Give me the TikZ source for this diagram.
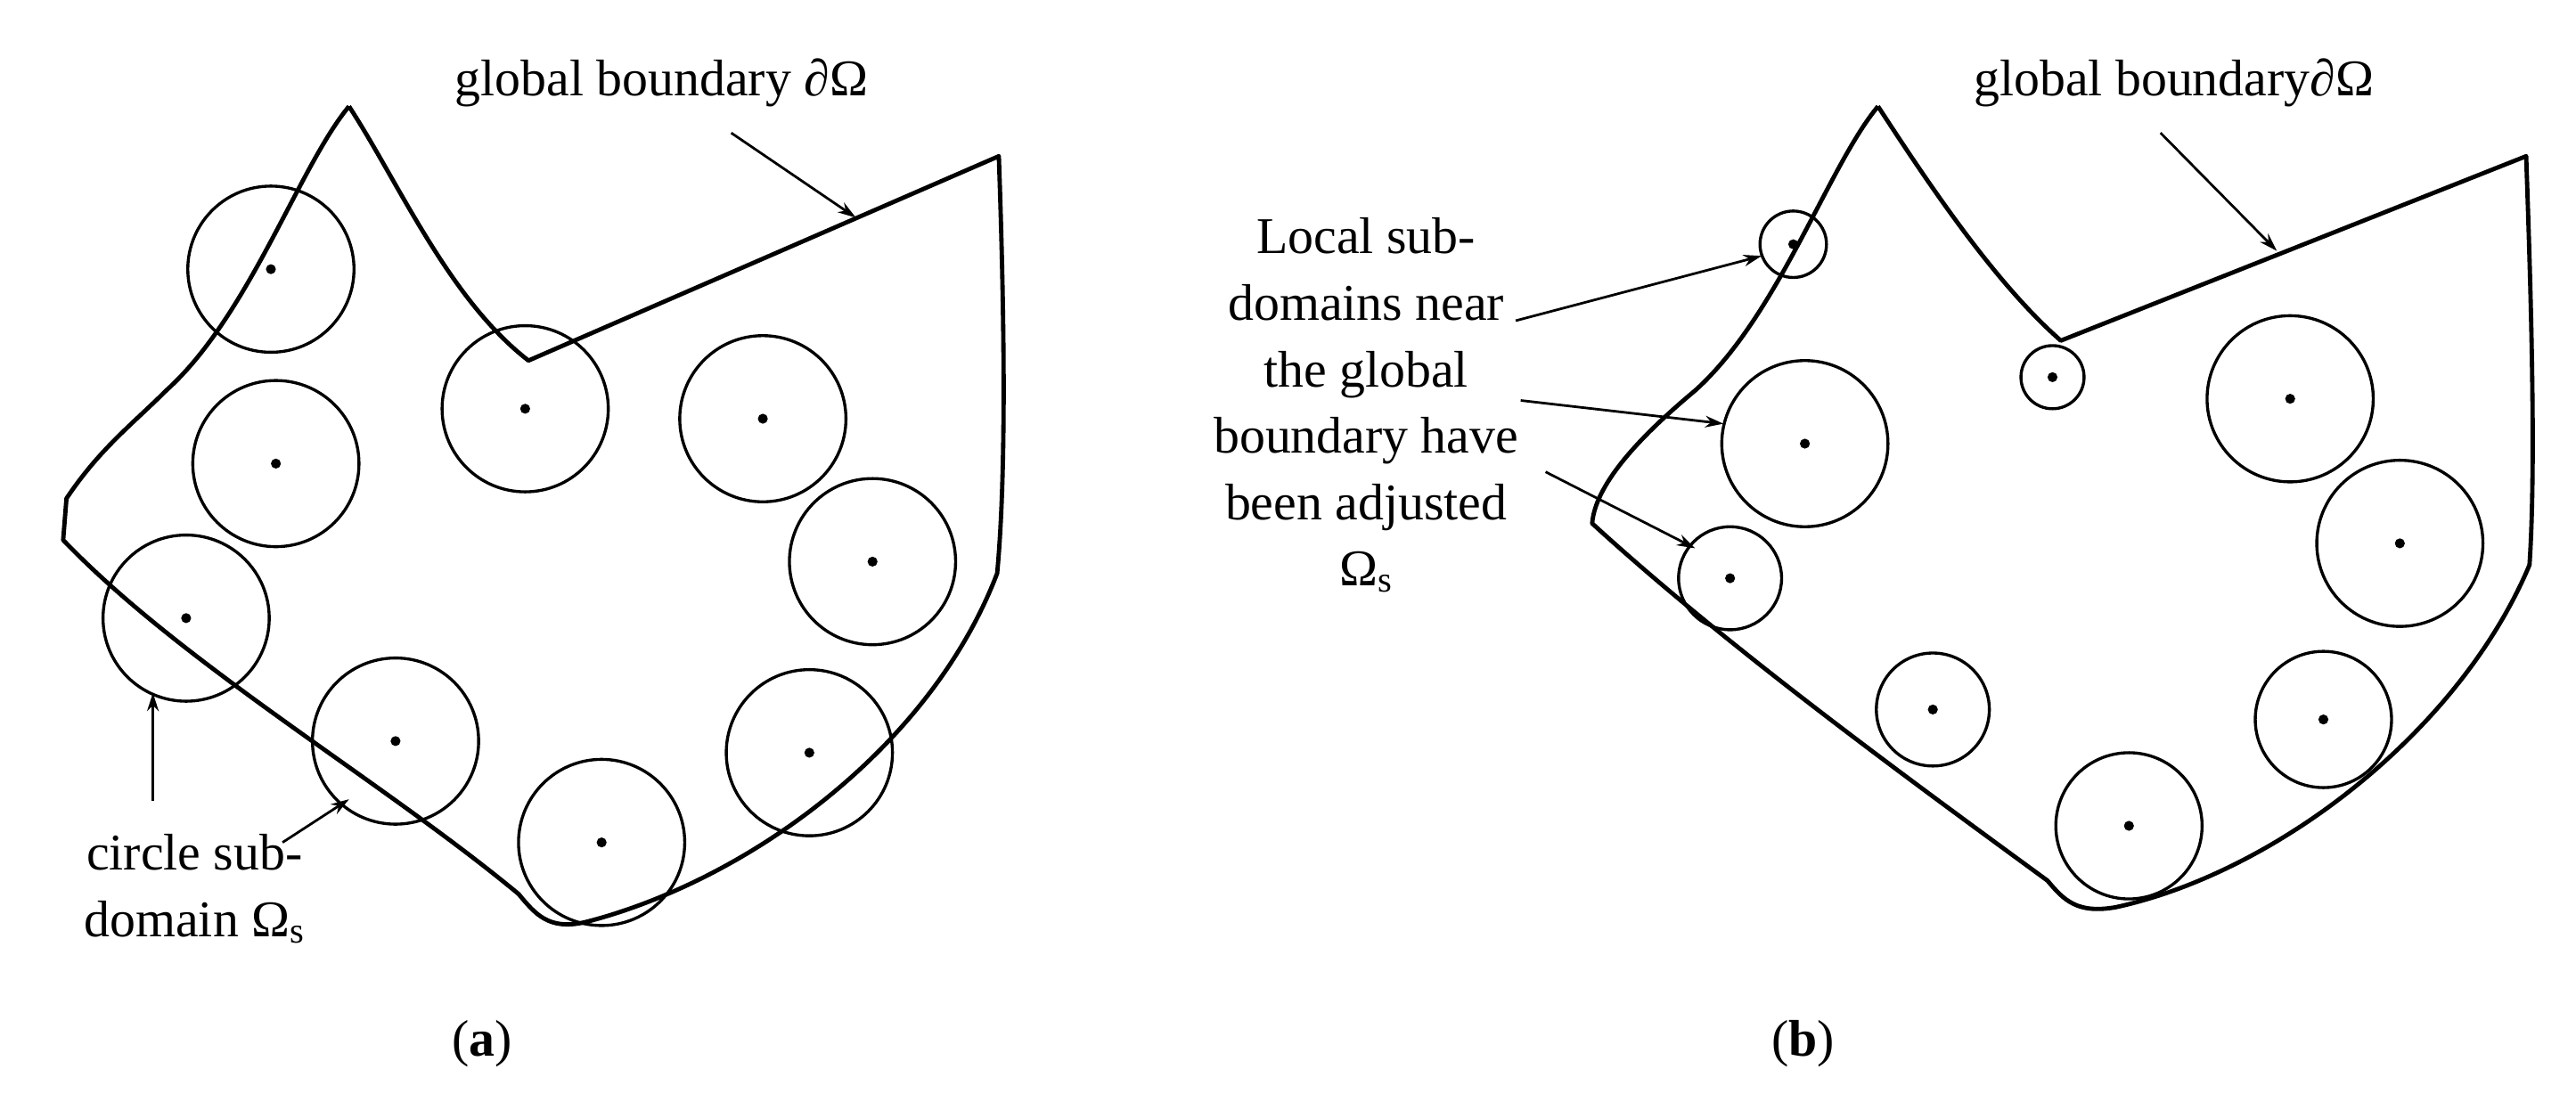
\documentclass[tikz,border=0pt]{standalone}
\usepackage{fontspec}
\setmainfont{Liberation Serif}
\usetikzlibrary{arrows.meta}
\begin{document}
\begin{tikzpicture}[x=1pt,y=-1pt,
  bnd/.style={line width=2.6pt,line join=round},
  sub/.style={line width=1.8pt},
  lab/.style={font=\fontsize{31}{40}\selectfont,align=center,inner sep=0pt},
  arr/.style={line width=1.5pt,-{Stealth[length=11pt,width=7pt]}}]
\useasboundingbox (0,0) rectangle (1550,663);
% (a) boundary
\draw[bnd] (210,64) .. controls (240,110) and (270,180) .. (318,217) -- (601,94)
  .. controls (604,180) and (606,280) .. (600,345)
  .. controls (560,450) and (450,530) .. (352,555)
  .. controls (330,560) and (322,550) .. (312,538)
  .. controls (230,470) and (110,400) .. (38,325)
  -- (40,300) .. controls (60,270) and (80,255) .. (100,235)
  .. controls (150,190) and (180,100) .. (210,64);
\foreach \n/\x/\y in {a1/163/162,a2/166/279,a3/316/246,a4/459/252,a5/525/338,a6/112/372,a7/238/446,a8/487/453,a9/362/507}{
  \node[circle,draw,sub,minimum size=100pt,inner sep=0pt] (\n) at (\x,\y) {};
  \fill (\x,\y) circle (3pt);}
\node[lab] (ga) at (398,50) {global boundary ∂Ω};
\coordinate (gat) at (515,131);
\draw[arr] (440,80) -- (gat);
\node[lab] (ca) at (117,535) {circle sub-\\domain Ω\textsubscript{s}};
\coordinate (cat1) at (92,417);
\coordinate (cat2) at (210,481);
\draw[arr] (92,482) -- (cat1);
\draw[arr] (170,507) -- (cat2);
\node[lab] (la) at (290,628) {(\textbf{a})};
% (b) boundary
\draw[bnd] (1130,64) .. controls (1160,110) and (1200,170) .. (1240,205) -- (1520,94)
  .. controls (1523,180) and (1526,280) .. (1522,340)
  .. controls (1480,440) and (1370,525) .. (1273,546)
  .. controls (1250,550) and (1242,542) .. (1232,530)
  .. controls (1150,470) and (1040,390) .. (958,315)
  .. controls (960,290) and (990,260) .. (1020,235)
  .. controls (1070,190) and (1100,100) .. (1130,64);
\foreach \n/\x/\y/\r in {b1/1079/147/20,b2/1235/227/19,b3/1086/267/50,b4/1041/348/31,b5/1163/427/34,b6/1378/240/50,b7/1444/327/50,b8/1398/433/41,b9/1281/497/44}{
  \node[circle,draw,sub,minimum size=2*\r pt,inner sep=0pt] (\n) at (\x,\y) {};
  \fill (\x,\y) circle (3pt);}
\node[lab] (gb) at (1308,50) {global boundary∂Ω};
\coordinate (gbt) at (1370,151);
\draw[arr] (1300,80) -- (gbt);
\node[lab,align=center] (lb) at (822,244) {Local sub-\\domains near\\the global\\boundary have\\been adjusted\\Ω\textsubscript{s}};
\coordinate (t1) at (1060,154);
\coordinate (t2) at (1037,255);
\coordinate (t3) at (1020,330);
\draw[arr] (912,193) -- (t1);
\draw[arr] (915,241) -- (t2);
\draw[arr] (930,284) -- (t3);
\node[lab] (lbb) at (1085,628) {(\textbf{b})};
\end{tikzpicture}
\end{document}
